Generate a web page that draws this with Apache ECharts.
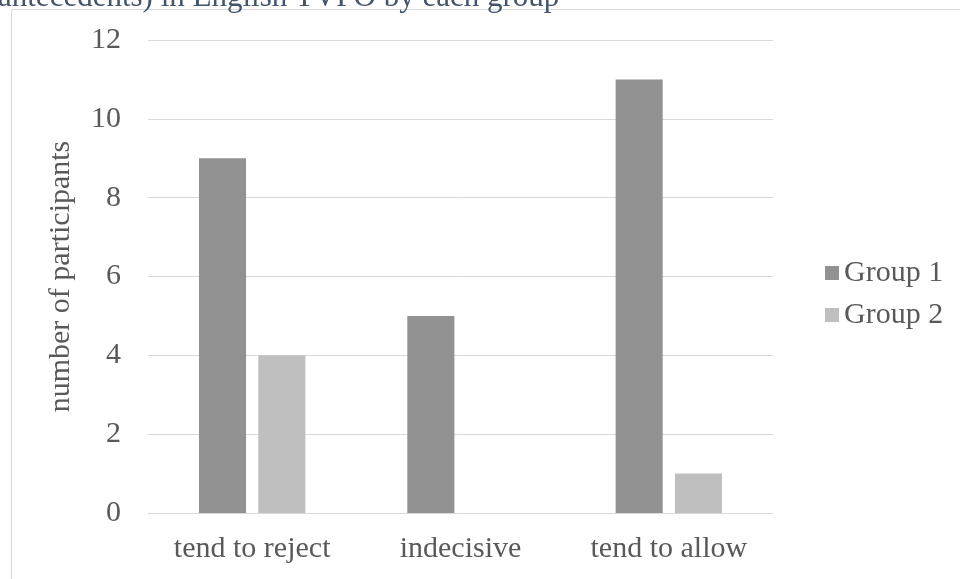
<!DOCTYPE html>
<html>
<head>
<meta charset="utf-8">
<style>
  html, body { margin: 0; padding: 0; background: #ffffff; }
  #chart { width: 960px; height: 579px; }
</style>
<script src="https://cdn.jsdelivr.net/npm/echarts@6/dist/echarts.min.js"></script>
</head>
<body>
<div id="chart"></div>
<script>
// Response categories and participant counts per group
const categories = ['tend to reject', 'indecisive', 'tend to allow'];
const group1 = [9, 5, 11];
const group2 = [4, 0, 1];
const seriesNames = ['Group 1', 'Group 2'];
const headingText = 'antecedents) in English TVPO by each group';

const serif = '"Liberation Serif", "Times New Roman", serif';
const textGrey = '#595959';
const lineGrey = '#d9d9d9';

const chart = echarts.init(document.getElementById('chart'), null, { renderer: 'canvas' });

chart.setOption({
  animation: false,
  backgroundColor: '#ffffff',
  title: {
    text: headingText,
    left: -2,
    top: -18,
    padding: 0,
    textStyle: { fontFamily: serif, fontSize: 31, fontWeight: 'normal', color: '#44546a' }
  },
  graphic: [{
    type: 'rect',
    shape: { x: 11.5, y: 9.5, width: 1200, height: 1200 },
    style: { fill: 'none', stroke: lineGrey, lineWidth: 1 },
    z: -1
  }],
  grid: { left: 148, right: 187, top: 40, bottom: 66 },
  legend: {
    orient: 'vertical',
    left: 820,
    top: 253,
    icon: 'rect',
    itemWidth: 14,
    itemHeight: 14,
    itemGap: 12,
    textStyle: { fontFamily: serif, fontSize: 30, color: textGrey },
    data: seriesNames
  },
  xAxis: {
    type: 'category',
    data: categories,
    axisLine: { show: true, lineStyle: { color: lineGrey, width: 1 } },
    axisTick: { show: false },
    axisLabel: { fontFamily: serif, fontSize: 30, color: textGrey, margin: 21 }
  },
  yAxis: {
    type: 'value',
    min: 0,
    max: 12,
    interval: 2,
    name: 'number of participants',
    nameLocation: 'middle',
    nameGap: 72,
    nameTextStyle: { fontFamily: serif, fontSize: 30, color: textGrey },
    axisLine: { show: false },
    axisTick: { show: false },
    axisLabel: { fontFamily: serif, fontSize: 30, color: textGrey, margin: 27 },
    splitLine: { lineStyle: { color: lineGrey, width: 1 } }
  },
  series: [
    {
      name: seriesNames[0],
      type: 'bar',
      data: group1,
      barWidth: '22.6%',
      barGap: '26%',
      itemStyle: { color: '#929292' }
    },
    {
      name: seriesNames[1],
      type: 'bar',
      data: group2,
      barWidth: '22.6%',
      barGap: '26%',
      itemStyle: { color: '#bfbfbf' }
    }
  ]
});
</script>
</body>
</html>
